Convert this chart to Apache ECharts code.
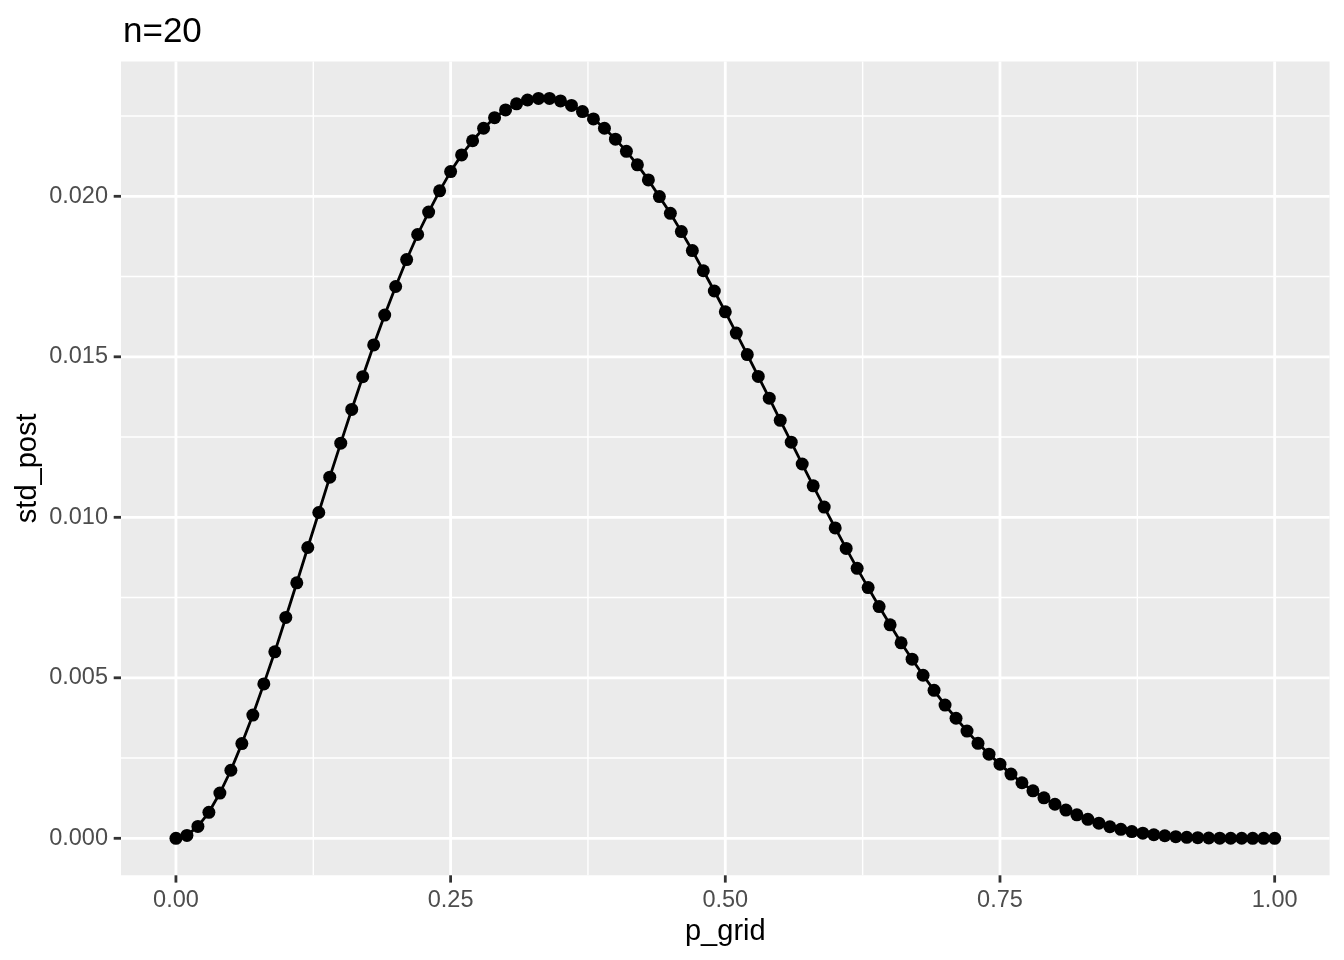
<!DOCTYPE html>
<html>
<head>
<meta charset="utf-8">
<script src="https://cdn.jsdelivr.net/npm/echarts@6/dist/echarts.min.js"></script>
<style>
html,body{margin:0;padding:0;background:#fff;}
#chart{width:1344px;height:960px;}
</style>
</head>
<body>
<div id="chart"></div>
<script>
const pGrid = [0.00,0.01,0.02,0.03,0.04,0.05,0.06,0.07,0.08,0.09,
  0.10,0.11,0.12,0.13,0.14,0.15,0.16,0.17,0.18,0.19,
  0.20,0.21,0.22,0.23,0.24,0.25,0.26,0.27,0.28,0.29,
  0.30,0.31,0.32,0.33,0.34,0.35,0.36,0.37,0.38,0.39,
  0.40,0.41,0.42,0.43,0.44,0.45,0.46,0.47,0.48,0.49,
  0.50,0.51,0.52,0.53,0.54,0.55,0.56,0.57,0.58,0.59,
  0.60,0.61,0.62,0.63,0.64,0.65,0.66,0.67,0.68,0.69,
  0.70,0.71,0.72,0.73,0.74,0.75,0.76,0.77,0.78,0.79,
  0.80,0.81,0.82,0.83,0.84,0.85,0.86,0.87,0.88,0.89,
  0.90,0.91,0.92,0.93,0.94,0.95,0.96,0.97,0.98,0.99,1.00];
const stdPost = [0.00000,0.00009,0.00037,0.00081,0.00141,0.00212,0.00295,0.00384,0.00481,0.00581,
  0.00688,0.00796,0.00906,0.01015,0.01125,0.01231,0.01336,0.01438,0.01537,0.01630,
  0.01719,0.01803,0.01881,0.01951,0.02017,0.02077,0.02129,0.02173,0.02212,0.02245,
  0.02269,0.02288,0.02300,0.02305,0.02305,0.02297,0.02283,0.02264,0.02241,0.02212,
  0.02178,0.02140,0.02098,0.02051,0.01999,0.01947,0.01890,0.01831,0.01768,0.01705,
  0.01640,0.01574,0.01507,0.01439,0.01371,0.01302,0.01234,0.01166,0.01098,0.01032,
  0.00967,0.00903,0.00841,0.00781,0.00722,0.00665,0.00609,0.00558,0.00508,0.00461,
  0.00415,0.00374,0.00334,0.00296,0.00262,0.00231,0.00200,0.00173,0.00148,0.00126,
  0.00106,0.00088,0.00073,0.00059,0.00047,0.00036,0.00028,0.00021,0.00016,0.00011,
  0.00008,0.00005,0.00003,0.00002,0.00001,0.000005,0.000002,0.000001,0.00000,0.00000,0.00000];
const xTicks = [0, 0.25, 0.5, 0.75, 1];
const yTicks = [0, 0.005, 0.010, 0.015, 0.020];
const xMinor = [0.125, 0.375, 0.625, 0.875];
const yMinor = [0.0025, 0.0075, 0.0125, 0.0175, 0.0225];
const titleText = 'n=20';
const xName = 'p_grid';
const yName = 'std_post';

const FONT = '"Liberation Sans", Arial, Helvetica, sans-serif';
const chart = echarts.init(document.getElementById('chart'), null, {renderer: 'canvas'});

const points = pGrid.map((p, i) => [p, stdPost[i]]);

// kind: 'vgrid' | 'hgrid' | 'xtick' | 'ytick'
function refSeries(values, kind, width, color, z) {
  const vertical = (kind === 'vgrid' || kind === 'xtick');
  return {
    type: 'custom',
    silent: true,
    clip: false,
    z: z,
    data: values.map(v => vertical ? [v, 0] : [0, v]),
    encode: {x: 0, y: 1},
    renderItem: function (params, api) {
      const cs = params.coordSys;
      const pt = api.coord([api.value(0), api.value(1)]);
      let shape;
      if (kind === 'vgrid') shape = {x1: pt[0], y1: cs.y, x2: pt[0], y2: cs.y + cs.height};
      else if (kind === 'hgrid') shape = {x1: cs.x, y1: pt[1], x2: cs.x + cs.width, y2: pt[1]};
      else if (kind === 'xtick') shape = {x1: pt[0], y1: cs.y + cs.height, x2: pt[0], y2: cs.y + cs.height + 7.3};
      else shape = {x1: cs.x - 7.3, y1: pt[1], x2: cs.x, y2: pt[1]};
      return {type: 'line', shape: shape, style: {stroke: color, lineWidth: width}};
    }
  };
}

const option = {
  animation: false,
  backgroundColor: '#ffffff',
  title: {
    text: titleText,
    left: 118,
    top: 10,
    textStyle: {fontFamily: FONT, fontSize: 35, fontWeight: 'normal', color: '#000000'}
  },
  grid: {
    left: 121, right: 14.4, top: 61.4, bottom: 84.7,
    show: true, backgroundColor: '#EBEBEB', borderWidth: 0
  },
  xAxis: {
    type: 'value',
    min: -0.05, max: 1.05,
    name: xName,
    nameLocation: 'middle',
    nameGap: 42,
    nameTextStyle: {fontFamily: FONT, fontSize: 29, color: '#000000'},
    axisLine: {show: false},
    splitLine: {show: false},
    axisTick: {show: false},
    axisLabel: {
      customValues: xTicks, margin: 13,
      fontFamily: FONT, fontSize: 23.5, color: '#4D4D4D',
      formatter: v => v.toFixed(2)
    }
  },
  yAxis: {
    type: 'value',
    min: -0.0011525, max: 0.0242025,
    name: yName,
    nameLocation: 'middle',
    nameRotate: 90,
    nameGap: 79,
    nameMoveOverlap: false,
    nameTextStyle: {fontFamily: FONT, fontSize: 29, color: '#000000'},
    axisLine: {show: false},
    splitLine: {show: false},
    axisTick: {show: false},
    axisLabel: {
      customValues: yTicks, margin: 13,
      fontFamily: FONT, fontSize: 23.5, color: '#4D4D4D',
      formatter: v => v.toFixed(3)
    }
  },
  series: [
    refSeries(xMinor, 'vgrid', 1.4, '#ffffff', 1),
    refSeries(yMinor, 'hgrid', 1.4, '#ffffff', 1),
    refSeries(xTicks, 'vgrid', 2.8, '#ffffff', 2),
    refSeries(yTicks, 'hgrid', 2.8, '#ffffff', 2),
    refSeries(xTicks, 'xtick', 2.8, '#333333', 2),
    refSeries(yTicks, 'ytick', 2.8, '#333333', 2),
    {
      type: 'line',
      data: points,
      z: 10,
      symbol: 'circle',
      symbolSize: 13,
      showSymbol: true,
      showAllSymbol: true,
      itemStyle: {color: '#000000'},
      lineStyle: {color: '#000000', width: 2.8},
      emphasis: {disabled: true},
      silent: true
    }
  ]
};
chart.setOption(option);
</script>
</body>
</html>
